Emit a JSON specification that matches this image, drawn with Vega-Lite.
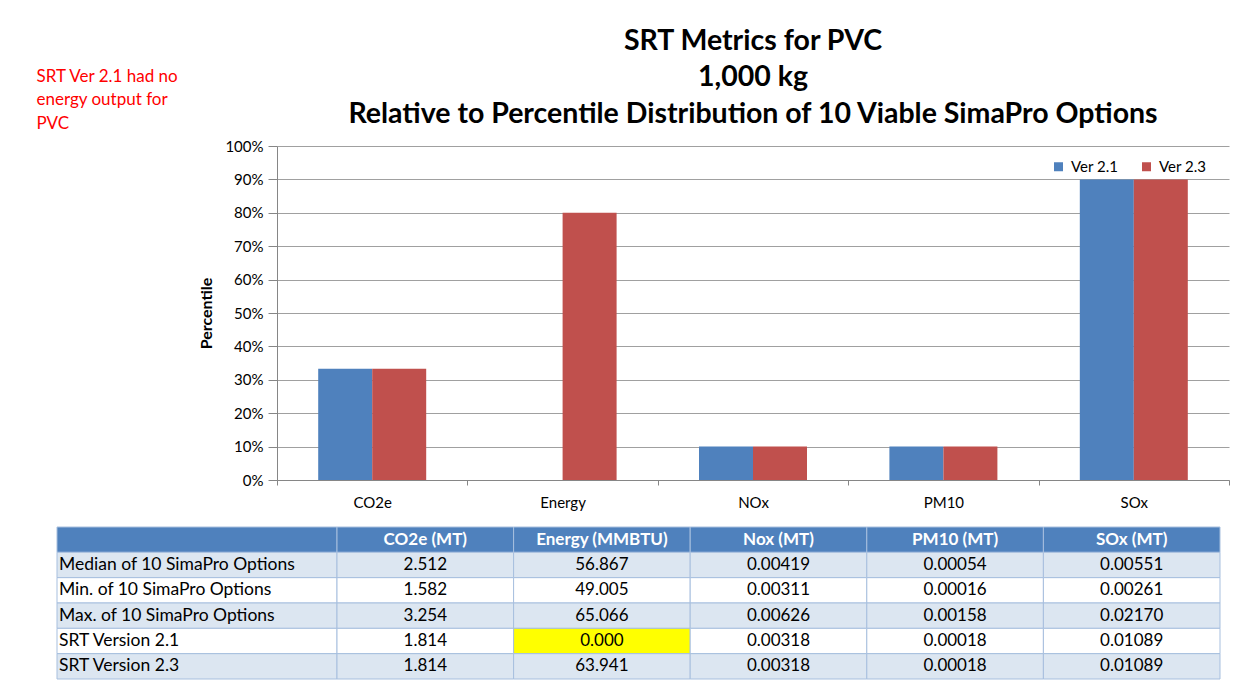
{
  "$schema": "https://vega.github.io/schema/vega-lite/v6.json",
  "padding": {"left": 36, "top": 26, "right": 0, "bottom": 0},
  "background": "white",
  "config": {"font": "Lato", "view": {"stroke": null}},
  "title": {"text": ["SRT Ver 2.1 had no", "energy output for", "PVC"], "anchor": "start", "frame": "bounds", "color": "#FF0000", "fontSize": 17, "fontWeight": "normal", "lineHeight": 23.5, "dx": -20, "dy": 110},
  "spacing": 16,
  "datasets": {
    "bars": [
      {"metric": "CO2e", "version": "Ver 2.1", "pct": 0.333},
      {"metric": "CO2e", "version": "Ver 2.3", "pct": 0.333},
      {"metric": "Energy", "version": "Ver 2.1", "pct": 0},
      {"metric": "Energy", "version": "Ver 2.3", "pct": 0.8},
      {"metric": "NOx", "version": "Ver 2.1", "pct": 0.1},
      {"metric": "NOx", "version": "Ver 2.3", "pct": 0.1},
      {"metric": "PM10", "version": "Ver 2.1", "pct": 0.1},
      {"metric": "PM10", "version": "Ver 2.3", "pct": 0.1},
      {"metric": "SOx", "version": "Ver 2.1", "pct": 0.9},
      {"metric": "SOx", "version": "Ver 2.3", "pct": 0.9}
    ],
    "table": [
      {"row": "hdr", "col": "label", "text": ""},
      {"row": "hdr", "col": "CO2e (MT)", "text": "CO2e (MT)"},
      {"row": "hdr", "col": "Energy (MMBTU)", "text": "Energy (MMBTU)"},
      {"row": "hdr", "col": "Nox (MT)", "text": "Nox (MT)"},
      {"row": "hdr", "col": "PM10 (MT)", "text": "PM10 (MT)"},
      {"row": "hdr", "col": "SOx (MT)", "text": "SOx (MT)"},
      {"row": "Median of 10 SimaPro Options", "col": "label", "text": "Median of 10 SimaPro Options"},
      {"row": "Median of 10 SimaPro Options", "col": "CO2e (MT)", "text": "2.512"},
      {"row": "Median of 10 SimaPro Options", "col": "Energy (MMBTU)", "text": "56.867"},
      {"row": "Median of 10 SimaPro Options", "col": "Nox (MT)", "text": "0.00419"},
      {"row": "Median of 10 SimaPro Options", "col": "PM10 (MT)", "text": "0.00054"},
      {"row": "Median of 10 SimaPro Options", "col": "SOx (MT)", "text": "0.00551"},
      {"row": "Min. of 10 SimaPro Options", "col": "label", "text": "Min. of 10 SimaPro Options"},
      {"row": "Min. of 10 SimaPro Options", "col": "CO2e (MT)", "text": "1.582"},
      {"row": "Min. of 10 SimaPro Options", "col": "Energy (MMBTU)", "text": "49.005"},
      {"row": "Min. of 10 SimaPro Options", "col": "Nox (MT)", "text": "0.00311"},
      {"row": "Min. of 10 SimaPro Options", "col": "PM10 (MT)", "text": "0.00016"},
      {"row": "Min. of 10 SimaPro Options", "col": "SOx (MT)", "text": "0.00261"},
      {"row": "Max. of 10 SimaPro Options", "col": "label", "text": "Max. of 10 SimaPro Options"},
      {"row": "Max. of 10 SimaPro Options", "col": "CO2e (MT)", "text": "3.254"},
      {"row": "Max. of 10 SimaPro Options", "col": "Energy (MMBTU)", "text": "65.066"},
      {"row": "Max. of 10 SimaPro Options", "col": "Nox (MT)", "text": "0.00626"},
      {"row": "Max. of 10 SimaPro Options", "col": "PM10 (MT)", "text": "0.00158"},
      {"row": "Max. of 10 SimaPro Options", "col": "SOx (MT)", "text": "0.02170"},
      {"row": "SRT Version 2.1", "col": "label", "text": "SRT Version 2.1"},
      {"row": "SRT Version 2.1", "col": "CO2e (MT)", "text": "1.814"},
      {"row": "SRT Version 2.1", "col": "Energy (MMBTU)", "text": "0.000"},
      {"row": "SRT Version 2.1", "col": "Nox (MT)", "text": "0.00318"},
      {"row": "SRT Version 2.1", "col": "PM10 (MT)", "text": "0.00018"},
      {"row": "SRT Version 2.1", "col": "SOx (MT)", "text": "0.01089"},
      {"row": "SRT Version 2.3", "col": "label", "text": "SRT Version 2.3"},
      {"row": "SRT Version 2.3", "col": "CO2e (MT)", "text": "1.814"},
      {"row": "SRT Version 2.3", "col": "Energy (MMBTU)", "text": "63.941"},
      {"row": "SRT Version 2.3", "col": "Nox (MT)", "text": "0.00318"},
      {"row": "SRT Version 2.3", "col": "PM10 (MT)", "text": "0.00018"},
      {"row": "SRT Version 2.3", "col": "SOx (MT)", "text": "0.01089"}
    ]
  },
  "vconcat": [
    {
      "width": 952,
      "height": 334,
      "title": {"text": ["SRT Metrics for PVC", "1,000 kg", "Relative to Percentile Distribution of 10 Viable SimaPro Options"], "fontSize": 28.5, "fontWeight": "bold", "lineHeight": 36.5, "anchor": "middle", "frame": "group", "offset": 11, "color": "#000000"},
      "data": {"name": "bars"},
      "mark": {"type": "bar"},
      "encoding": {
        "x": {"field": "metric", "type": "nominal", "sort": ["CO2e", "Energy", "NOx", "PM10", "SOx"],
          "scale": {"paddingInner": 0, "paddingOuter": 0},
          "axis": {"title": null, "labelAngle": 0, "tickBand": "extent", "labelFontSize": 15, "labelColor": "#000000", "labelPadding": 10, "tickSize": 5, "domainColor": "#868686", "tickColor": "#868686", "grid": false}},
        "xOffset": {"field": "version", "type": "nominal", "scale": {"paddingInner": 0, "paddingOuter": 0.763}},
        "y": {"field": "pct", "type": "quantitative", "scale": {"domain": [0, 1]},
          "axis": {"title": "Percentile", "format": ".0%", "values": [0, 0.1, 0.2, 0.3, 0.4, 0.5, 0.6, 0.7, 0.8, 0.9, 1], "labelFontSize": 15, "labelColor": "#000000", "titleFontSize": 16, "titleFontWeight": "bold", "titleColor": "#000000", "gridColor": "#A0A0A0", "domainColor": "#868686", "tickColor": "#868686", "tickSize": 9, "labelPadding": 5, "titlePadding": 10}},
        "color": {"field": "version", "type": "nominal", "scale": {"range": ["#4F81BD", "#C0504D"]},
          "legend": {"title": null, "orient": "none", "legendX": 774, "legendY": 13, "direction": "horizontal", "symbolType": "square", "symbolSize": 81, "symbolStrokeWidth": 0, "labelFontSize": 15, "labelColor": "#000000", "columnPadding": 20, "labelOffset": 5}}
      }
    },
    {
      "width": 943,
      "height": 152,
      "data": {"name": "table"},
      "encoding": {
        "y": {"field": "row", "type": "nominal", "scale": {"domain": ["hdr", "Median of 10 SimaPro Options", "Min. of 10 SimaPro Options", "Max. of 10 SimaPro Options", "SRT Version 2.1", "SRT Version 2.3"], "paddingInner": 0, "paddingOuter": 0}, "axis": null}
      },
      "layer": [
        {
          "transform": [{"filter": "datum.col === 'label'"}],
          "encoding": {"x": {"field": "col", "type": "nominal", "scale": {"domain": ["label"], "range": [-220, 60], "paddingInner": 0, "paddingOuter": 0}, "axis": null}},
          "layer": [
            {"mark": {"type": "rect", "stroke": "#A7BFDE", "strokeWidth": 1},
             "encoding": {"fill": {"field": "row", "type": "nominal", "scale": {"domain": ["hdr", "Median of 10 SimaPro Options", "Min. of 10 SimaPro Options", "Max. of 10 SimaPro Options", "SRT Version 2.1", "SRT Version 2.3"], "range": ["#4F81BD", "#DCE6F1", "#FFFFFF", "#DCE6F1", "#FFFFFF", "#DCE6F1"]}, "legend": null}}},
            {"transform": [{"filter": "datum.row !== 'hdr'"}],
             "mark": {"type": "text", "align": "left", "dx": 2, "fontSize": 17.5, "color": "#000000"},
             "encoding": {"x": {"field": "col", "type": "nominal", "bandPosition": 0, "scale": {"domain": ["label"], "range": [-220, 60], "paddingInner": 0, "paddingOuter": 0}, "axis": null}, "text": {"field": "text"}}}
          ]
        },
        {
          "transform": [{"filter": "datum.col !== 'label'"}],
          "encoding": {"x": {"field": "col", "type": "nominal", "scale": {"domain": ["CO2e (MT)", "Energy (MMBTU)", "Nox (MT)", "PM10 (MT)", "SOx (MT)"], "range": [60, 943], "paddingInner": 0, "paddingOuter": 0}, "axis": null}},
          "layer": [
            {"mark": {"type": "rect", "stroke": "#A7BFDE", "strokeWidth": 1},
             "encoding": {"fill": {"condition": {"test": "datum.text === '0.000'", "value": "#FFFF00"}, "field": "row", "type": "nominal", "scale": {"domain": ["hdr", "Median of 10 SimaPro Options", "Min. of 10 SimaPro Options", "Max. of 10 SimaPro Options", "SRT Version 2.1", "SRT Version 2.3"], "range": ["#4F81BD", "#DCE6F1", "#FFFFFF", "#DCE6F1", "#FFFFFF", "#DCE6F1"]}, "legend": null}}},
            {"transform": [{"filter": "datum.row !== 'hdr'"}],
             "mark": {"type": "text", "fontSize": 17, "color": "#000000"},
             "encoding": {"text": {"field": "text"}}},
            {"transform": [{"filter": "datum.row === 'hdr'"}],
             "mark": {"type": "text", "fontSize": 17, "fontWeight": "bold", "color": "#FFFFFF"},
             "encoding": {"text": {"field": "text"}}}
          ]
        }
      ],
      "resolve": {"scale": {"x": "independent"}}
    }
  ]
}
